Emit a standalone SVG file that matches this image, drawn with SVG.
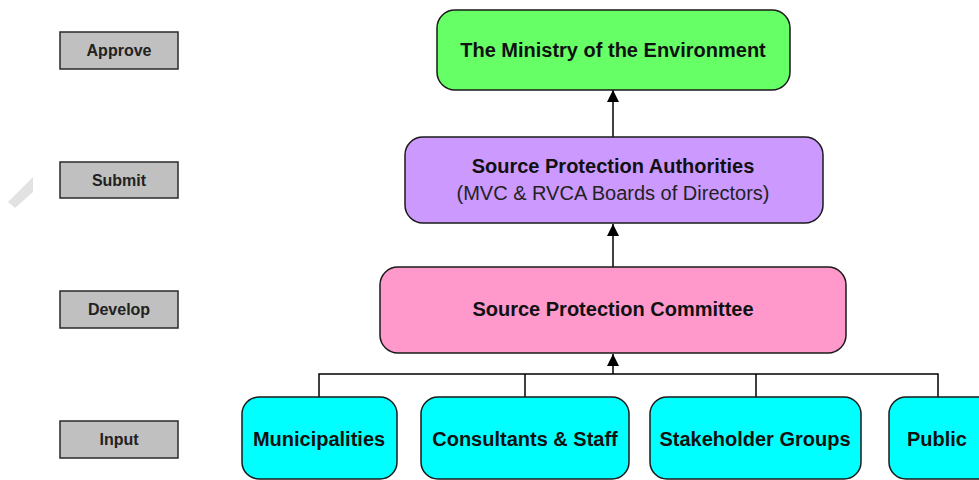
<svg xmlns="http://www.w3.org/2000/svg" width="979" height="480" viewBox="0 0 979 480">
<defs>
<marker id="arr" markerWidth="13" markerHeight="13" refX="12" refY="6" orient="auto" markerUnits="userSpaceOnUse" viewBox="0 0 13 13">
<path d="M0,0 L12,6 L0,12 Z" fill="#000"/>
</marker>
<style>
.stage rect{fill:#c0c0c0;stroke:#2a2a2a;stroke-width:1.5}
.stage text{font-family:"Liberation Sans",Arial,sans-serif;font-weight:bold;font-size:16px;fill:#222;text-anchor:middle}
.node rect{stroke:#1a1a1a;stroke-width:1.5}
.node text{font-family:"Liberation Sans",Arial,sans-serif;font-weight:bold;font-size:20px;fill:#111;text-anchor:middle}
.node text.sub{font-weight:normal;font-size:20px;fill:#222}
.conn{stroke:#000;stroke-width:1.5;fill:none}
</style>
</defs>
<rect width="979" height="480" fill="#fff"/>
<polygon points="8,202 33,177 33,192 15,208" fill="#e2e2e2"/>

<g id="stage-approve" class="stage"><rect x="60" y="32" width="118" height="37"/><text x="119" y="56">Approve</text></g>
<g id="stage-submit" class="stage"><rect x="60" y="162" width="118" height="36"/><text x="119" y="186">Submit</text></g>
<g id="stage-develop" class="stage"><rect x="60" y="291" width="118" height="37"/><text x="119" y="315">Develop</text></g>
<g id="stage-input" class="stage"><rect x="60" y="421" width="118" height="37"/><text x="119" y="445">Input</text></g>

<g id="connectors">
<line class="conn" x1="613" y1="137" x2="613" y2="90" marker-end="url(#arr)"/>
<line class="conn" x1="613" y1="267" x2="613" y2="224" marker-end="url(#arr)"/>
<line class="conn" x1="613" y1="374" x2="613" y2="354" marker-end="url(#arr)"/>
<polyline class="conn" points="319,397 319,374 938,374 938,397"/>
<line class="conn" x1="525" y1="374" x2="525" y2="397"/>
<line class="conn" x1="756" y1="374" x2="756" y2="397"/>
</g>

<g id="ministry" class="node"><rect x="437" y="10" width="353" height="80" rx="18" fill="#66ff66"/><text x="613" y="57">The Ministry of the Environment</text></g>
<g id="spa" class="node"><rect x="405" y="137" width="418" height="86" rx="18" fill="#cc99ff"/><text x="613" y="173">Source Protection Authorities</text><text class="sub" x="613" y="200">(MVC &amp; RVCA Boards of Directors)</text></g>
<g id="spc" class="node"><rect x="380" y="267" width="466" height="86" rx="18" fill="#ff99cc"/><text x="613" y="316">Source Protection Committee</text></g>
<g id="municipalities" class="node"><rect x="242" y="397" width="155" height="82" rx="17" fill="#00ffff"/><text x="319" y="446">Municipalities</text></g>
<g id="consultants" class="node"><rect x="421" y="397" width="208" height="82" rx="17" fill="#00ffff"/><text x="525" y="446">Consultants &amp; Staff</text></g>
<g id="stakeholders" class="node"><rect x="650" y="397" width="211" height="82" rx="17" fill="#00ffff"/><text x="755" y="446">Stakeholder Groups</text></g>
<g id="public" class="node"><rect x="889" y="397" width="106" height="82" rx="17" fill="#00ffff"/><text x="937" y="446">Public</text></g>
</svg>
